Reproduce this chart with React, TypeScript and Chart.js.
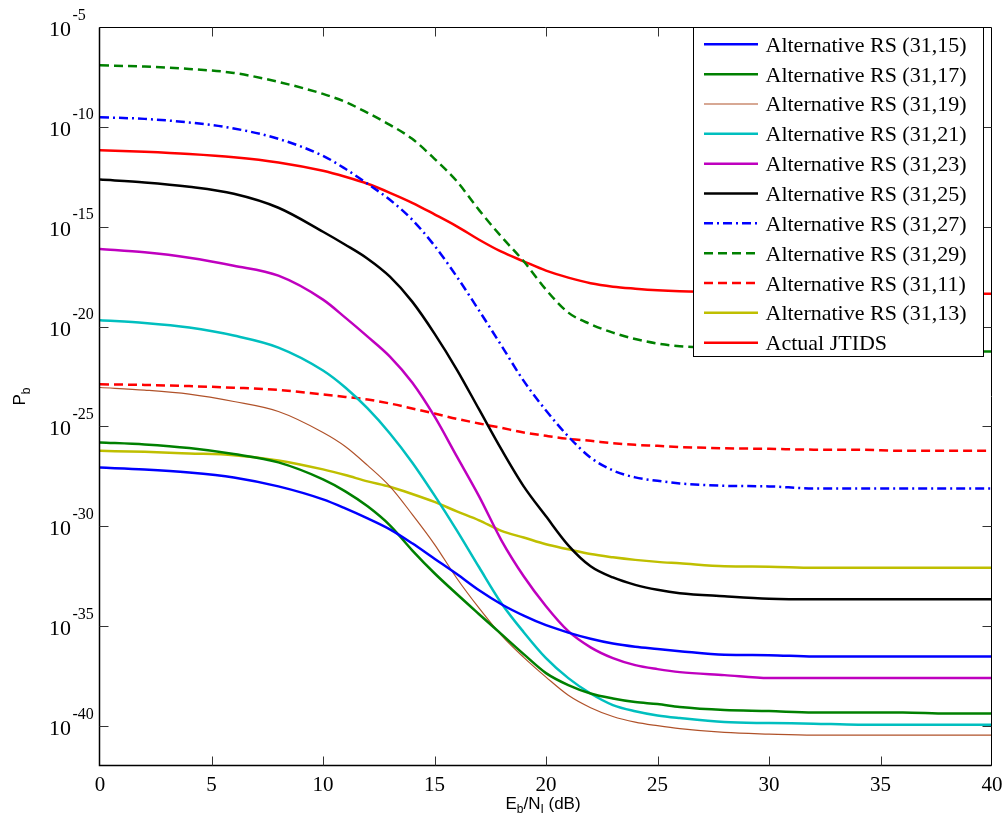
import React, { useEffect, useRef } from 'react';
import { Chart, registerables } from 'chart.js';

Chart.register(...registerables);

// Eb/NI in dB
const ebno = [0, 2, 4, 6, 8, 10, 11, 12, 13, 14, 15, 16, 17, 18, 19, 20, 21, 22, 23, 24, 25, 26, 28, 30, 32, 34, 36, 38, 40];

// log10(Pb) for each curve
const rs15 = [-27.06, -27.15, -27.3, -27.55, -28.0, -28.65, -29.1, -29.6, -30.15, -30.85, -31.62, -32.39, -33.2, -33.9, -34.47, -34.95, -35.32, -35.63, -35.87, -36.03, -36.14, -36.25, -36.43, -36.45, -36.52, -36.52, -36.52, -36.52, -36.52];
const rs17 = [-25.8, -25.9, -26.08, -26.38, -26.8, -27.65, -28.25, -29.0, -29.95, -31.2, -32.35, -33.39, -34.4, -35.4, -36.4, -37.35, -37.95, -38.37, -38.62, -38.8, -38.9, -39.05, -39.2, -39.25, -39.32, -39.32, -39.32, -39.37, -39.37];
const rs19 = [-23.05, -23.18, -23.38, -23.75, -24.25, -25.3, -26.0, -26.95, -28.0, -29.4, -30.9, -32.6, -34.1, -35.46, -36.56, -37.55, -38.46, -39.08, -39.52, -39.8, -39.98, -40.13, -40.32, -40.4, -40.45, -40.45, -40.45, -40.45, -40.45];
const rs21 = [-19.68, -19.82, -20.05, -20.45, -21.05, -22.2, -23.05, -24.1, -25.35, -26.8, -28.45, -30.2, -32.05, -33.85, -35.3, -36.6, -37.6, -38.37, -38.95, -39.26, -39.47, -39.6, -39.8, -39.85, -39.88, -39.93, -39.93, -39.93, -39.93];
const rs23 = [-16.11, -16.28, -16.55, -16.95, -17.45, -18.65, -19.55, -20.5, -21.5, -22.8, -24.5, -26.5, -28.5, -30.7, -32.5, -34.0, -35.25, -36.06, -36.6, -36.95, -37.15, -37.3, -37.45, -37.6, -37.6, -37.6, -37.6, -37.6, -37.6];
const rs25 = [-12.64, -12.78, -13.0, -13.35, -14.05, -15.25, -15.9, -16.6, -17.5, -18.75, -20.35, -22.15, -24.15, -26.15, -28.0, -29.5, -30.95, -32.0, -32.56, -32.93, -33.18, -33.35, -33.5, -33.62, -33.65, -33.65, -33.65, -33.65, -33.65];
const rs27 = [-9.52, -9.6, -9.78, -10.08, -10.6, -11.45, -12.1, -12.85, -13.65, -14.65, -15.95, -17.5, -19.2, -20.95, -22.72, -24.2, -25.5, -26.56, -27.2, -27.55, -27.72, -27.85, -27.97, -28.0, -28.1, -28.1, -28.1, -28.1, -28.1];
const rs29 = [-6.92, -6.98, -7.1, -7.3, -7.75, -8.35, -8.75, -9.3, -9.9, -10.6, -11.6, -12.72, -14.17, -15.5, -16.73, -18.15, -19.3, -19.88, -20.3, -20.62, -20.85, -20.98, -21.08, -21.12, -21.15, -21.18, -21.2, -21.22, -21.25];
const rs11 = [-22.89, -22.92, -22.98, -23.06, -23.17, -23.4, -23.52, -23.65, -23.85, -24.1, -24.35, -24.62, -24.85, -25.07, -25.3, -25.47, -25.62, -25.72, -25.84, -25.92, -25.97, -26.03, -26.09, -26.12, -26.16, -26.16, -26.22, -26.22, -26.22];
const rs13 = [-26.22, -26.27, -26.35, -26.44, -26.7, -27.15, -27.43, -27.75, -28.02, -28.38, -28.78, -29.25, -29.7, -30.23, -30.56, -30.9, -31.15, -31.39, -31.55, -31.68, -31.78, -31.85, -32.0, -32.02, -32.08, -32.08, -32.08, -32.08, -32.08];
const jtids = [-11.17, -11.25, -11.36, -11.52, -11.78, -12.2, -12.5, -12.85, -13.3, -13.8, -14.38, -14.98, -15.65, -16.25, -16.73, -17.2, -17.55, -17.83, -18.0, -18.1, -18.18, -18.23, -18.28, -18.3, -18.32, -18.33, -18.34, -18.35, -18.35];

const seriesNames = [
  'Alternative RS (31,15)',
  'Alternative RS (31,17)',
  'Alternative RS (31,19)',
  'Alternative RS (31,21)',
  'Alternative RS (31,23)',
  'Alternative RS (31,25)',
  'Alternative RS (31,27)',
  'Alternative RS (31,29)',
  'Alternative RS (31,11)',
  'Alternative RS (31,13)',
  'Actual JTIDS',
];
const seriesValues = [rs15, rs17, rs19, rs21, rs23, rs25, rs27, rs29, rs11, rs13, jtids];

const xTickValues = [0, 5, 10, 15, 20, 25, 30, 35, 40];
const yTickExponents = [-5, -10, -15, -20, -25, -30, -35, -40];

const xTitle = { main: 'E', sub1: 'b', mid: '/N', sub2: 'I', tail: ' (dB)' };
const yTitle = { main: 'P', sub: 'b' };

const seriesStyles = [
  { color: '#0000ff', width: 2.5, dash: [] as number[] },
  { color: '#008000', width: 2.5, dash: [] as number[] },
  { color: '#b0522a', width: 1.2, dash: [] as number[] },
  { color: '#00bfbf', width: 2.5, dash: [] as number[] },
  { color: '#bf00bf', width: 2.5, dash: [] as number[] },
  { color: '#000000', width: 2.5, dash: [] as number[] },
  { color: '#0000ff', width: 2.5, dash: [9, 4, 2, 4] },
  { color: '#008000', width: 2.5, dash: [9, 5] },
  { color: '#ff0000', width: 2.5, dash: [9, 5] },
  { color: '#bfbf00', width: 2.5, dash: [] as number[] },
  { color: '#ff0000', width: 2.5, dash: [] as number[] },
];

const SERIF = '"Liberation Serif", "Times New Roman", serif';
const SANS = '"Liberation Sans", Arial, sans-serif';

const decorPlugin = {
  id: 'matlabDecor',
  afterDatasetsDraw(chart: any) {
    const { ctx, chartArea: a, scales } = chart;
    const xs = scales.x;
    const ys = scales.y;
    ctx.save();

    // frame
    ctx.strokeStyle = '#000';
    ctx.lineWidth = 1;
    const L = Math.round(a.left) - 0.5;
    const R = Math.round(a.right) - 0.5;
    const T = Math.round(a.top) + 0.5;
    const B = Math.round(a.bottom) - 0.5;
    ctx.beginPath();
    ctx.rect(L, T, R - L, B - T);
    ctx.stroke();
    ctx.lineWidth = 1.5;
    ctx.beginPath();
    ctx.moveTo(L, T);
    ctx.lineTo(L, B);
    ctx.lineTo(R, B);
    ctx.stroke();

    // ticks (inward, all four sides)
    ctx.lineWidth = 1;
    ctx.strokeStyle = '#333';
    const tl = 9;
    ctx.beginPath();
    xTickValues.forEach((v) => {
      if (v === xTickValues[0] || v === xTickValues[xTickValues.length - 1]) return;
      const px = Math.round(xs.getPixelForValue(v)) + 0.5;
      ctx.moveTo(px, B);
      ctx.lineTo(px, B - tl);
      ctx.moveTo(px, T);
      ctx.lineTo(px, T + tl);
    });
    yTickExponents.forEach((e) => {
      const py = Math.round(ys.getPixelForValue(Math.pow(10, e))) + 0.5;
      if (Math.abs(py - T) < 2) return;
      ctx.moveTo(L, py);
      ctx.lineTo(L + tl, py);
      ctx.moveTo(R, py);
      ctx.lineTo(R - tl, py);
    });
    ctx.stroke();

    // x tick labels
    ctx.fillStyle = '#000';
    ctx.font = `21px ${SERIF}`;
    ctx.textAlign = 'center';
    ctx.textBaseline = 'alphabetic';
    xTickValues.forEach((v) => {
      const px = xs.getPixelForValue(v);
      ctx.fillText(String(v), px, a.bottom + 25);
    });

    // y tick labels 10^e
    yTickExponents.forEach((e) => {
      const py = ys.getPixelForValue(Math.pow(10, e));
      ctx.font = `22px ${SERIF}`;
      ctx.textAlign = 'right';
      ctx.fillText('10', 71, py + 9);
      ctx.font = `16px ${SERIF}`;
      ctx.textAlign = 'left';
      ctx.fillText(String(e), 72.5, py - 7.5);
    });

    // x title
    const mainF = `17px ${SANS}`;
    const subF = `12px ${SANS}`;
    const parts = [
      { t: xTitle.main, f: mainF, dy: 0 },
      { t: xTitle.sub1, f: subF, dy: 4 },
      { t: xTitle.mid, f: mainF, dy: 0 },
      { t: xTitle.sub2, f: subF, dy: 4 },
      { t: xTitle.tail, f: mainF, dy: 0 },
    ];
    let total = 0;
    parts.forEach((p) => {
      ctx.font = p.f;
      total += ctx.measureText(p.t).width;
    });
    let cx = (a.left + a.right) / 2 - 3 - total / 2;
    ctx.textAlign = 'left';
    parts.forEach((p) => {
      ctx.font = p.f;
      ctx.fillText(p.t, cx, 809 + p.dy);
      cx += ctx.measureText(p.t).width;
    });

    // y title
    ctx.save();
    ctx.translate(25, (a.top + a.bottom) / 2);
    ctx.rotate(-Math.PI / 2);
    ctx.font = `17px ${SANS}`;
    const wP = ctx.measureText(yTitle.main).width;
    ctx.font = `12px ${SANS}`;
    const wb = ctx.measureText(yTitle.sub).width;
    const sx = -(wP + wb) / 2;
    ctx.font = `17px ${SANS}`;
    ctx.fillText(yTitle.main, sx, 0);
    ctx.font = `12px ${SANS}`;
    ctx.fillText(yTitle.sub, sx + wP, 5);
    ctx.restore();

    // legend
    const lx0 = 693.5, ly0 = T, lx1 = 983.5, ly1 = 356.5;
    ctx.fillStyle = '#fff';
    ctx.fillRect(lx0, ly0, lx1 - lx0, ly1 - ly0);
    ctx.strokeStyle = '#000';
    ctx.lineWidth = 1;
    ctx.strokeRect(lx0, ly0, lx1 - lx0, ly1 - ly0);
    ctx.font = `22px ${SERIF}`;
    ctx.textAlign = 'left';
    ctx.textBaseline = 'alphabetic';
    seriesNames.forEach((name, i) => {
      const st = seriesStyles[i];
      const y = 44.3 + i * 29.84;
      ctx.strokeStyle = st.color;
      ctx.lineWidth = st.width;
      ctx.setLineDash(st.dash);
      ctx.beginPath();
      ctx.moveTo(704, y);
      ctx.lineTo(758, y);
      ctx.stroke();
      ctx.setLineDash([]);
      ctx.fillStyle = '#000';
      ctx.fillText(name, 765.5, y + 7.5);
    });

    ctx.restore();
  },
};

export default function App() {
  const canvasRef = useRef<HTMLCanvasElement | null>(null);

  useEffect(() => {
    document.body.style.margin = '0';
    const canvas = canvasRef.current;
    if (!canvas) return;
    const datasets = seriesValues.map((vals, i) => ({
      label: seriesNames[i],
      data: ebno.map((x, j) => ({ x, y: Math.pow(10, vals[j]) })),
      borderColor: seriesStyles[i].color,
      backgroundColor: seriesStyles[i].color,
      borderWidth: seriesStyles[i].width,
      borderDash: seriesStyles[i].dash,
      pointRadius: 0,
      fill: false,
      cubicInterpolationMode: 'monotone' as const,
    }));
    const chart = new Chart(canvas, {
      type: 'line',
      data: { datasets },
      options: {
        animation: false,
        responsive: false,
        devicePixelRatio: 1,
        layout: { padding: { left: 100, top: 27, right: 14, bottom: 57 } },
        plugins: { legend: { display: false }, tooltip: { enabled: false } },
        scales: {
          x: { type: 'linear', min: 0, max: 40, display: false },
          y: { type: 'logarithmic', min: 1e-42, max: 1e-5, display: false },
        },
      },
      plugins: [decorPlugin],
    });
    return () => chart.destroy();
  }, []);

  return (
    <div style={{ width: 1006, height: 823, background: '#fff' }}>
      <canvas ref={canvasRef} width={1006} height={823} style={{ display: 'block' }} />
    </div>
  );
}
